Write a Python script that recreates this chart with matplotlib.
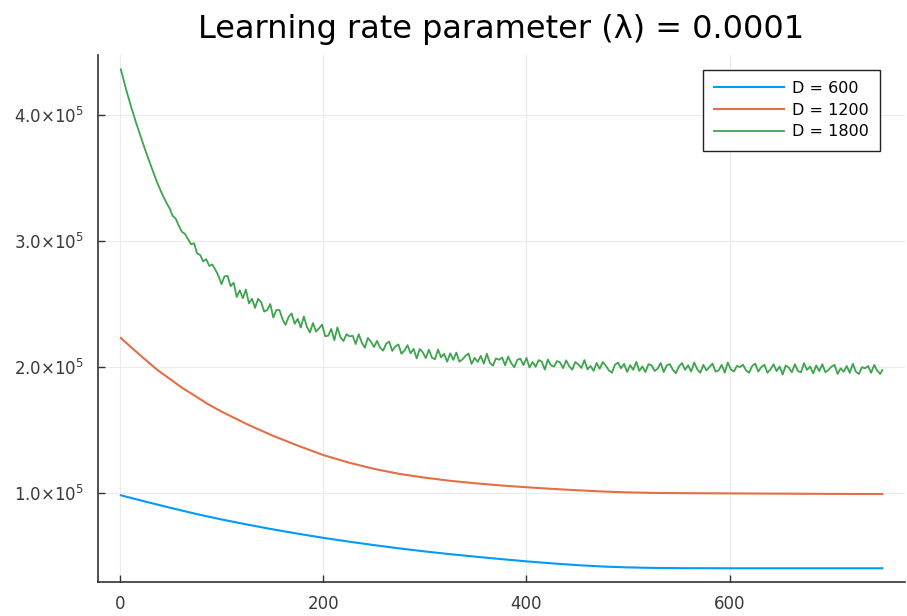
import matplotlib
matplotlib.use("Agg")
import matplotlib.pyplot as plt
from matplotlib.ticker import FuncFormatter

# === data (loss values in thousands) ===
blue_iter = [1, 25, 50, 75, 100, 125, 150, 175, 200, 225, 250, 275, 300, 325, 350,
             375, 400, 425, 450, 475, 500, 525, 550, 600, 650, 700, 750]
blue_loss = [98, 93, 88, 83.2, 78.8, 74.8, 71, 67.5, 64.2, 61.2, 58.4, 55.8, 53.4,
             51.2, 49.2, 47.3, 45.5, 43.9, 42.5, 41.4, 40.7, 40.3, 40.1, 40.0,
             40.0, 40.0, 40.0]

orange_iter = [1, 12, 25, 37, 50, 62, 75, 87, 100, 125, 150, 175, 200, 225, 250, 275,
               300, 325, 350, 375, 400, 425, 450, 475, 500, 525, 550, 600, 650, 700, 750]
orange_loss = [223, 215, 205.8, 197.6, 190, 183, 176.5, 170.3, 164.5, 154.5, 145.5,
               137.5, 130, 124, 119, 115, 112, 109.5, 107.5, 105.8, 104.4, 103.1, 102,
               101, 100.3, 99.9, 99.7, 99.5, 99.3, 99.1, 99.0]

green_iter = [1, 6, 11, 16, 21, 26, 31, 36, 41, 46] + list(range(49, 749, 3)) + [750]
green_loss = [
    436.5, 421, 407, 394, 382, 370, 359, 348, 338.5, 330.2,
    # 49 .. 97
    326.0, 320.0, 317.8, 312.2, 307.4, 305.8, 301.7,
    297.4, 298.3, 290.2, 289, 283.8, 285.6, 280.2, 281.4, 277.2, 272.4,
    # 100 .. 250
    265.8, 272, 272.3, 264.2, 266.9, 255.6, 260.9, 254.6, 261.5, 250.5,
    254.1, 246.9, 254.1, 251.4, 244, 245.2, 250, 239.2, 245.2, 245.2,
    238, 233.4, 239.7, 242.4, 234.3, 238.2, 231.3, 240, 231.9, 227.4,
    234.9, 228, 230.7, 233.6, 224.4, 224.8, 230.2, 221.2, 231.4, 223.6,
    220.6, 226, 224.2, 224.8, 218.2, 226, 219.4, 215.2, 223, 220,
    215.8,
    # 253 .. 400
    220.7, 215.3, 212.9, 218.5, 220.1, 212.7, 216.3, 217.9, 210.5, 213,
    217.3, 210.8, 214.3, 206.8, 214.2, 211.6, 207, 213.7, 207.4, 206.1,
    213.8, 207.6, 210.4, 204.1, 210.8, 205.6, 211.4, 204.2, 206, 208.8,
    210.6, 202.4, 207.2, 204, 208.8, 202.6, 210.4, 203.2, 201, 206.8,
    205.7, 207.5, 201.3, 208.2, 203, 199.8, 205.7, 206.5, 201.4, 207.2,
    # 403 .. 748
    199.5, 203.9, 200.1, 205.4, 204.3, 197.9, 205.9, 201.3, 200.3, 204.6,
    203.6, 199, 205.2, 200.6, 197.8, 203.9, 202, 199.2, 205.4, 198.1,
    200.7, 196.9, 203.1, 198.5, 203.8, 201, 197.3, 195.4, 201.7, 203.4,
    198.9, 202.4, 196, 201.4, 197.7, 204, 196.8, 200.4, 195.9, 202.2,
    201.3, 196.8, 198.6, 203.1, 195.9, 201.3, 202.2, 197.7, 195, 200.4,
    203.1, 197.7, 201.3, 196.3, 203.5, 198.1, 195.4, 201.7, 197.2, 199.9,
    202.6, 196.3, 197.2, 201.7, 195.4, 203.5, 198.1, 196.3, 200.8, 199.9,
    201.7, 197.2, 195.4, 200.8, 202.6, 196.3, 199.9, 201.7, 195.4, 198.1,
    202.1, 196.7, 200.3, 194, 201.2, 199.4, 195.8, 202.1, 196.7, 195.8,
    203, 197.6, 200.3, 194.9, 201.2, 196.7, 202.1, 195.8, 197.6, 200.3,
    201.6, 194.4, 198.9, 196.2, 200.7, 195.3, 202.5, 196.2, 194.4, 199.8,
    198.9, 200.7, 195.3, 201.6, 197.1, 194.4,
    # 750
    197.5,
]

labels = ["D = 600", "D = 1200", "D = 1800"]
title = "Learning rate parameter (λ) = 0.0001"
x_ticks = [0, 200, 400, 600]
y_ticks = [1e5, 2e5, 3e5, 4e5]

# === plot ===
fig = plt.figure(figsize=(9.07, 6.16), dpi=100)
ax = fig.add_axes([0.108, 0.055, 0.89, 0.856])

ax.plot(blue_iter, [v * 1000 for v in blue_loss], color="#009AFA", lw=1.5, label=labels[0])
ax.plot(orange_iter, [v * 1000 for v in orange_loss], color="#E36F47", lw=1.5, label=labels[1])
ax.plot(green_iter, [v * 1000 for v in green_loss], color="#3EA44E", lw=1.3, label=labels[2])

ax.set_xlim(-21.5, 772.5)
ax.set_ylim(29000, 448000)
ax.set_xticks(x_ticks)
ax.set_yticks(y_ticks)
ax.yaxis.set_major_formatter(FuncFormatter(lambda v, p: f"{v/1e5:.1f}×10$^{{5}}$"))

ax.grid(True, color="#ebebeb", lw=0.8)
ax.set_axisbelow(True)
for s in ["top", "right"]:
    ax.spines[s].set_visible(False)
for s in ["left", "bottom"]:
    ax.spines[s].set_color("#333333")
    ax.spines[s].set_linewidth(1.2)
ax.tick_params(direction="in", length=5, width=1, color="#333333",
               labelcolor="#3a3a3a", labelsize=12)
ax.tick_params(axis="y", pad=10)
ax.tick_params(axis="x", pad=9)

ax.set_title(title, fontsize=23, pad=12)

leg = ax.legend(loc="upper right", bbox_to_anchor=(0.969, 0.9715), borderaxespad=0,
                fontsize=11.5, fancybox=False, framealpha=1, edgecolor="#222222",
                handlelength=4.4, handletextpad=0.5, labelspacing=0.42, borderpad=0.7)
leg.get_frame().set_linewidth(1.0)

fig.savefig("out.png", dpi=100)
